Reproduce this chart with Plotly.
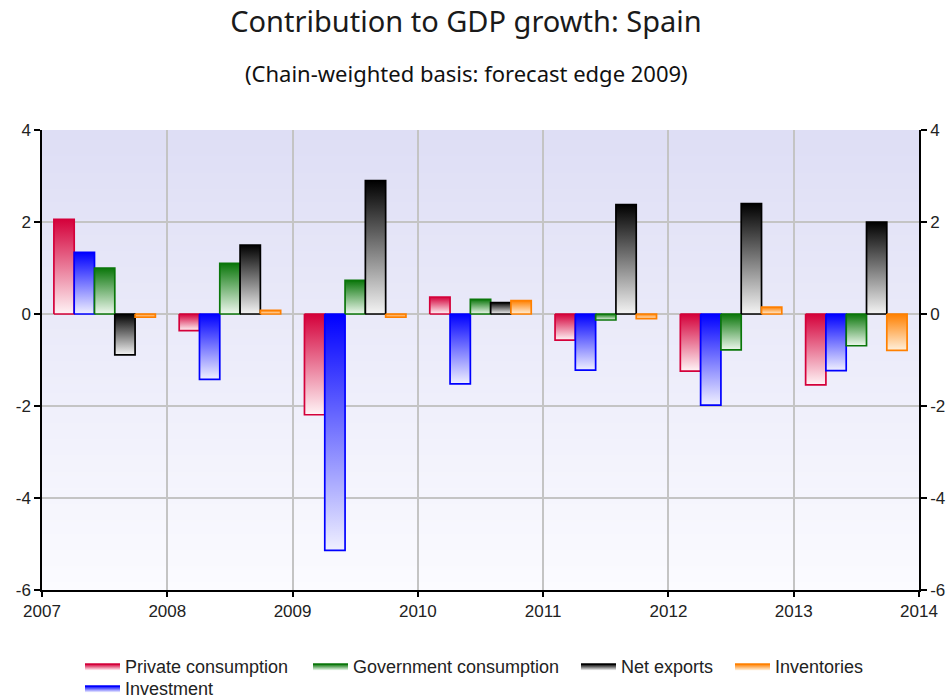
import zlib, struct, base64
import plotly.graph_objects as go

years = [2007, 2008, 2009, 2010, 2011, 2012, 2013]
tick_years = [2007, 2008, 2009, 2010, 2011, 2012, 2013, 2014]
series_names = ["Private consumption", "Investment", "Government consumption", "Net exports", "Inventories"]
private_consumption = [2.06, -0.36, -2.19, 0.37, -0.57, -1.24, -1.54]
investment = [1.34, -1.42, -5.14, -1.52, -1.22, -1.98, -1.23]
government_consumption = [1.00, 1.10, 0.73, 0.32, -0.13, -0.78, -0.69]
net_exports = [-0.89, 1.50, 2.90, 0.25, 2.38, 2.40, 2.00]
inventories = [-0.07, 0.08, -0.07, 0.29, -0.10, 0.15, -0.79]
y_ticks = [-6, -4, -2, 0, 2, 4]
y_ticktext = ["-6", "-4", "-2", "0", "2", "4"]

series_values = [private_consumption, investment, government_consumption, net_exports, inventories]
colors = ["#d4003a", "#0000ff", "#0a760a", "#000000", "#ff8000"]
light = ["#fff4f6", "#f0f0ff", "#eef8ee", "#f4f4f4", "#fff0dc"]
legend_ids = ["legend", "legend5", "legend2", "legend3", "legend4"]
# legend entry positions (left x, top y) in page pixels
legend_pos = {"legend": (80, 648), "legend2": (308, 648), "legend3": (576, 648),
              "legend4": (730, 648), "legend5": (80, 670)}

GROUP_START = 0.095
BAR_W = 0.162


def grad_png(top, bottom, h=200):
    rows = b""
    for i in range(h):
        t = i / (h - 1)
        c = [round(top[k] + (bottom[k] - top[k]) * t) for k in range(3)]
        rows += b"\x00" + bytes(c)

    def chunk(tag, data):
        return (struct.pack(">I", len(data)) + tag + data
                + struct.pack(">I", zlib.crc32(tag + data) & 0xffffffff))

    png = (b"\x89PNG\r\n\x1a\n"
           + chunk(b"IHDR", struct.pack(">IIBBBBB", 1, h, 8, 2, 0, 0, 0))
           + chunk(b"IDAT", zlib.compress(rows))
           + chunk(b"IEND", b""))
    return "data:image/png;base64," + base64.b64encode(png).decode()


fig = go.Figure()

for si, (name, vals) in enumerate(zip(series_names, series_values)):
    for yi, (yr, v) in enumerate(zip(years, vals)):
        x0 = yr + GROUP_START + si * BAR_W
        x1 = x0 + BAR_W
        fig.add_trace(go.Scatter(
            x=[x0, x0, x1, x1, x0],
            y=[0, v, v, 0, 0],
            mode="lines",
            fill="toself",
            fillgradient=dict(type="vertical",
                              colorscale=[[0, light[si]], [1, colors[si]]]),
            line=dict(color=colors[si], width=1.7),
            name=name,
            legendgroup=name,
            legend=legend_ids[si],
            showlegend=(yi == 0),
            hoverinfo="skip",
        ))

# invisible trace so the right-hand axis is drawn
fig.add_trace(go.Scatter(x=[2007], y=[0], yaxis="y2", mode="markers",
                         marker=dict(opacity=0), showlegend=False, hoverinfo="skip"))

tick_font = dict(family="Liberation Sans, Arial, sans-serif", size=17, color="#222")
legend_font = dict(family="Liberation Sans, Arial, sans-serif", size=18, color="#222")

legends = {}
for lid, (lx, ly) in legend_pos.items():
    legends[lid] = dict(orientation="h", xref="container", yref="container",
                        x=lx / 951, y=1 - ly / 699, xanchor="left", yanchor="top",
                        font=legend_font, itemwidth=35, bgcolor="rgba(0,0,0,0)")

fig.update_layout(
    width=951, height=699,
    margin=dict(l=42, r=32, t=130, b=109, autoexpand=False),
    paper_bgcolor="white",
    plot_bgcolor="rgba(0,0,0,0)",
    title=dict(text="Contribution to GDP growth: Spain",
               font=dict(family="Noto Sans, sans-serif", size=29, color="#1a1a1a"),
               x=466 / 951, xanchor="center", y=1 - 22 / 699, yanchor="middle",
               xref="container", yref="container"),
    annotations=[dict(text="(Chain-weighted basis: forecast edge 2009)",
                      xref="paper", yref="paper", x=(466 - 42) / 877, y=1 + (130 - 73) / 460,
                      xanchor="center", yanchor="middle", showarrow=False,
                      font=dict(family="Noto Sans, sans-serif", size=22, color="#111"))],
    xaxis=dict(range=[2007, 2014], tickvals=tick_years, ticktext=[str(t) for t in tick_years],
               showgrid=True, gridcolor="#c4c4c4", gridwidth=1.5,
               showline=True, linecolor="black", linewidth=1.5,
               ticks="outside", ticklen=5, tickcolor="black", tickwidth=1.5,
               zeroline=False, tickfont=tick_font, fixedrange=True, automargin=False),
    yaxis=dict(range=[-6, 4], tickvals=y_ticks, ticktext=y_ticktext,
               showgrid=True, gridcolor="#c4c4c4", gridwidth=1.5,
               showline=True, linecolor="black", linewidth=1.5,
               ticks="outside", ticklen=6, tickcolor="black", tickwidth=1.5,
               zeroline=False, tickfont=tick_font, fixedrange=True, automargin=False),
    yaxis2=dict(range=[-6, 4], tickvals=y_ticks, ticktext=y_ticktext,
                overlaying="y", side="right", showgrid=False,
                showline=True, linecolor="black", linewidth=1.5,
                ticks="outside", ticklen=6, tickcolor="black", tickwidth=1.5,
                zeroline=False, tickfont=tick_font, fixedrange=True, automargin=False),
    images=[dict(source=grad_png((222, 222, 245), (251, 251, 255)),
                 xref="x", yref="y", x=2007, y=4, sizex=7, sizey=10,
                 sizing="stretch", layer="below", xanchor="left", yanchor="top")],
    showlegend=True,
    **legends,
)

fig.write_html("out.html")
